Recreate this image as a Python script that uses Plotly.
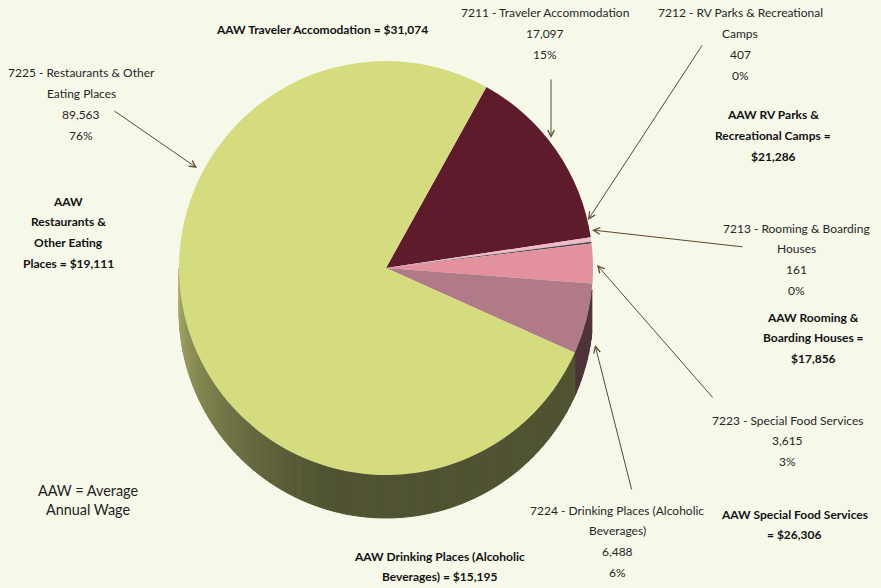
import math
import plotly.graph_objects as go

# ---------------- data ----------------
codes = ["7211", "7212", "7213", "7223", "7224", "7225"]
names = ["Traveler Accommodation", "RV Parks & Recreational Camps",
         "Rooming & Boarding Houses", "Special Food Services",
         "Drinking Places (Alcoholic Beverages)", "Restaurants & Other Eating Places"]
label_lines = [
    ["7211 - Traveler Accommodation"],
    ["7212 - RV Parks & Recreational", "Camps"],
    ["7213 - Rooming & Boarding", "Houses"],
    ["7223 - Special Food Services"],
    ["7224 - Drinking Places (Alcoholic", "Beverages)"],
    ["7225 - Restaurants & Other", "Eating Places"],
]
employment = [17097, 407, 161, 3615, 6488, 89563]
avg_annual_wage = [31074, 21286, 17856, 26306, 15195, 19111]
aaw_lines = [
    ["AAW Traveler Accomodation = {w}"],
    ["AAW RV Parks &", "Recreational Camps =", "{w}"],
    ["AAW Rooming &", "Boarding Houses =", "{w}"],
    ["AAW Special Food Services", "= {w}"],
    ["AAW Drinking Places (Alcoholic", "Beverages) = {w}"],
    ["AAW", "Restaurants &", "Other Eating", "Places = {w}"],
]
note_lines = ["AAW = Average", "Annual Wage"]

# ---------------- style ----------------
W, H = 881, 588
BG = "#F6F9EA"
colors = ["#5E1B2B", "#F0B9C8", "#4A4A4A", "#E3909F", "#B07B86", "#D5DC7E"]
CX, CY, R = 386, 268, 207
DEPTH = 43
ROT = 29
FONT = "Lato, Carlito, Calibri, sans-serif"

def px(x):
    return x / W

def py(y):
    return 1 - y / H

total = sum(employment)
pcts = [f"{round(v / total * 100)}%" for v in employment]

fig = go.Figure()
fig.add_trace(go.Pie(
    labels=[f"{c} - {n}" for c, n in zip(codes, names)],
    values=employment,
    sort=False,
    direction="clockwise",
    rotation=ROT,
    marker=dict(colors=colors, line=dict(width=0)),
    textinfo="none",
    hoverinfo="label+value+percent",
    showlegend=False,
    domain=dict(x=[px(CX - R), px(CX + R)], y=[py(CY + R), py(CY - R)]),
))

# ---------------- 3D side band (decoration) ----------------
shapes = []
green_end = ROT + 360 * (1 - employment[-1] / total)  # angle where green slice starts

def pt(theta_deg, dy=0):
    t = math.radians(theta_deg)
    return CX + R * math.sin(t), CY - R * math.cos(t) + dy

def side_color(theta):
    if theta < green_end:
        return "rgb(78,52,58)"
    light = (168, 172, 104)
    dark = (80, 83, 49)
    f = max(0.0, min(1.0, (theta - 195) / (270 - 195)))
    f = f ** 1.3
    c = [round(dark[i] + (light[i] - dark[i]) * f) for i in range(3)]
    return f"rgb({c[0]},{c[1]},{c[2]})"

def seg(t0, t1):
    pts = [pt(t0), pt(t1), pt(t1, DEPTH), pt(t0, DEPTH)]
    path = "M " + " L ".join(f"{px(x):.5f},{py(y):.5f}" for x, y in pts) + " Z"
    col = side_color((t0 + t1) / 2)
    shapes.append(dict(type="path", path=path, xref="paper", yref="paper",
                       fillcolor=col, line=dict(color=col, width=1), layer="below"))

N = 90
a0, a1 = 96, 270
edges = sorted(set([a0 + (a1 - a0) * i / N for i in range(N + 1)] + [green_end]))
for t0, t1 in zip(edges[:-1], edges[1:]):
    seg(t0, t1)

# ---------------- text ----------------
annotations = []

def block(lines, cx, y0, step=20.7, bold=False, size=12, color="#262626", family=FONT):
    for k, ln in enumerate(lines):
        txt = f"<b>{ln}</b>" if bold else ln
        annotations.append(dict(text=txt, x=px(cx), y=py(y0 + k * step), xref="paper", yref="paper",
                                showarrow=False, xanchor="center", yanchor="middle",
                                font=dict(family=family, size=size, color=color)))

label_pos = [(545, 13), (740, 13), (796, 228), (787, 420), (617, 510), (81, 73)]
aaw_pos = [(322, 29), (773, 115), (813, 317), (794, 514), (439, 556), (68, 201)]

for i in range(len(codes)):
    lines = label_lines[i] + [f"{employment[i]:,}", pcts[i]]
    cx, cy = label_pos[i]
    block(lines, cx, cy)
    wage = f"${avg_annual_wage[i]:,}"
    cx, cy = aaw_pos[i]
    block([s.format(w=wage) for s in aaw_lines[i]], cx, cy, bold=True, color="#111111")

block(note_lines, 88, 490, step=19.5, size=14.4, color="#222222", family="Lato, sans-serif")

# arrows: (head x, head y, tail x, tail y)
arrows = [(551, 138, 551, 78), (588, 220, 703, 44), (592, 230, 744, 247),
          (597, 265, 714, 399), (595, 345, 632, 491), (197, 168, 113, 110)]
for hx, hy, tx, ty in arrows:
    annotations.append(dict(text="", x=px(hx), y=py(hy), xref="paper", yref="paper",
                            ax=tx - hx, ay=ty - hy, axref="pixel", ayref="pixel",
                            showarrow=True, arrowhead=5, arrowsize=1.3, arrowwidth=1,
                            arrowcolor="#5A4A2E", standoff=0))

fig.update_layout(
    width=W, height=H,
    margin=dict(l=0, r=0, t=0, b=0),
    paper_bgcolor=BG, plot_bgcolor=BG,
    shapes=shapes, annotations=annotations,
    showlegend=False,
)
fig.write_html("out.html", config={"displayModeBar": False},
               post_script="document.body.style.margin='0';document.body.style.overflow='hidden';")
